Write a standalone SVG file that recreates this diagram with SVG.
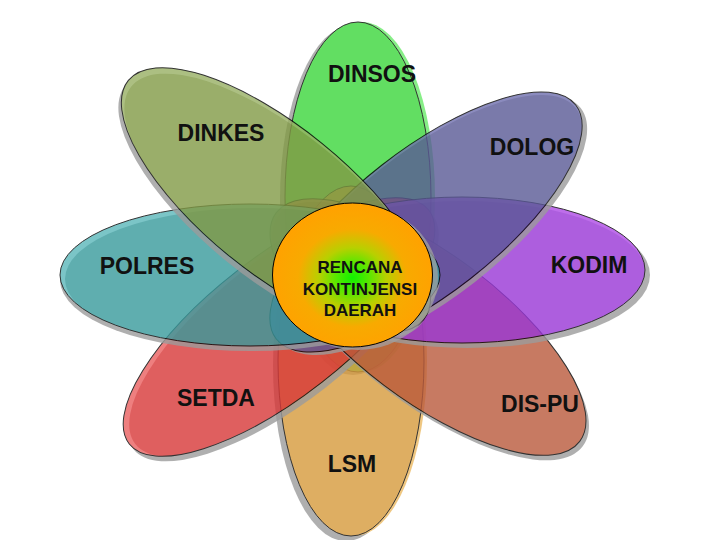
<svg xmlns="http://www.w3.org/2000/svg" xmlns:xlink="http://www.w3.org/1999/xlink" width="720" height="540" viewBox="0 0 720 540">
<style>
.shadow{fill:#9c9c9c}
.outline{fill:none;stroke:#000;stroke-width:1}
.petal{opacity:.8}
.lbl{font-family:"Liberation Sans",Arial,sans-serif;font-weight:bold;font-size:23px;fill:#111;text-anchor:middle}
.ctr{font-size:17px}
</style>
<defs>
<ellipse id="e-dinsos" cx="358" cy="197" rx="73" ry="175"/>
<ellipse id="e-lsm" cx="351" cy="361" rx="73" ry="175"/>
<ellipse id="e-polres" cx="250" cy="275" rx="190" ry="71"/>
<ellipse id="e-kodim" cx="462" cy="270" rx="183" ry="73"/>
<ellipse id="e-dinkes" cx="276" cy="200" rx="190" ry="73" transform="rotate(39 276 200)"/>
<ellipse id="e-dispu" cx="428" cy="327" rx="190" ry="73" transform="rotate(37 428 327)"/>
<ellipse id="e-dolog" cx="426" cy="222" rx="190" ry="72" transform="rotate(-38 426 222)"/>
<ellipse id="e-setda" cx="279" cy="327" rx="190" ry="70" transform="rotate(-38 279 327)"/>
<clipPath id="c-dinkes"><use xlink:href="#e-dinkes"/></clipPath>
<clipPath id="c-polres"><use xlink:href="#e-polres"/></clipPath>
<clipPath id="c-setda"><use xlink:href="#e-setda"/></clipPath>
<clipPath id="c-kodim"><use xlink:href="#e-kodim"/></clipPath>
<clipPath id="c-dolog"><use xlink:href="#e-dolog"/></clipPath>
<clipPath id="c-dispu"><use xlink:href="#e-dispu"/></clipPath>
<radialGradient id="g-center" cx="0.5" cy="0.52" r="0.5">
<stop offset="0" stop-color="#10f000"/>
<stop offset="0.2" stop-color="#55e800"/>
<stop offset="0.42" stop-color="#b8d000"/>
<stop offset="0.68" stop-color="#f8aa00"/>
<stop offset="1" stop-color="#ffa200"/>
</radialGradient>
</defs>

<g id="node-dinsos">
<g class="petal">
<use xlink:href="#e-dinsos" class="shadow" x="-5" y="3"/>
<use xlink:href="#e-dinsos" fill="#6aea6a" x="4" y="0"/>
<use xlink:href="#e-dinsos" fill="#3cd63c"/>
<use xlink:href="#e-dinsos" class="outline"/>
</g>
<text class="lbl" x="372" y="82">DINSOS</text>
</g>

<g id="node-lsm">
<g class="petal">
<use xlink:href="#e-lsm" class="shadow" x="-5" y="5"/>
<use xlink:href="#e-lsm" fill="#ecba63" x="3" y="0"/>
<use xlink:href="#e-lsm" fill="#d79a3b"/>
<use xlink:href="#e-lsm" class="outline"/>
</g>
<text class="lbl" x="352" y="472">LSM</text>
</g>

<g id="node-setda">
<g class="petal">
<use xlink:href="#e-setda" class="shadow" x="4" y="5"/>
<use xlink:href="#e-setda" fill="#ea6060"/>
<g clip-path="url(#c-setda)"><use xlink:href="#e-setda" fill="#d83838" x="6" y="0"/></g>
<use xlink:href="#e-setda" class="outline"/>
</g>
<text class="lbl" x="216" y="406">SETDA</text>
</g>

<g id="node-dispu">
<g class="petal">
<use xlink:href="#e-dispu" class="shadow" x="3" y="5"/>
<use xlink:href="#e-dispu" fill="#cd6f50"/>
<g clip-path="url(#c-dispu)"><use xlink:href="#e-dispu" fill="#ba5a3b" x="2" y="3"/></g>
<use xlink:href="#e-dispu" class="outline"/>
</g>
<text class="lbl" x="540" y="412">DIS-PU</text>
</g>

<g id="node-kodim">
<g class="petal">
<use xlink:href="#e-kodim" class="shadow" x="5" y="5"/>
<use xlink:href="#e-kodim" fill="#ae4ae6"/>
<g clip-path="url(#c-kodim)"><use xlink:href="#e-kodim" fill="#9937d7" x="1" y="4"/></g>
<use xlink:href="#e-kodim" class="outline"/>
</g>
<text class="lbl" x="589" y="273">KODIM</text>
</g>

<g id="node-dolog">
<g class="petal">
<use xlink:href="#e-dolog" class="shadow" x="5" y="3"/>
<use xlink:href="#e-dolog" fill="#6f6fae"/>
<g clip-path="url(#c-dolog)"><use xlink:href="#e-dolog" fill="#5a5996" x="0" y="3"/></g>
<use xlink:href="#e-dolog" class="outline"/>
</g>
<text class="lbl" x="532" y="155">DOLOG</text>
</g>

<g id="node-polres">
<g class="petal">
<use xlink:href="#e-polres" class="shadow" x="0" y="5"/>
<use xlink:href="#e-polres" fill="#5bb7ba"/>
<g clip-path="url(#c-polres)"><use xlink:href="#e-polres" fill="#389a9c" x="5" y="4"/></g>
<use xlink:href="#e-polres" class="outline"/>
</g>
<text class="lbl" x="147" y="274">POLRES</text>
</g>

<g id="node-dinkes">
<g class="petal">
<use xlink:href="#e-dinkes" class="shadow" x="-3" y="5"/>
<use xlink:href="#e-dinkes" fill="#98b064"/>
<g clip-path="url(#c-dinkes)"><use xlink:href="#e-dinkes" fill="#819a45" x="3" y="6"/></g>
<use xlink:href="#e-dinkes" class="outline"/>
</g>
<text class="lbl" x="221" y="141">DINKES</text>
</g>

<g id="node-center">
<ellipse cx="358" cy="278" rx="80" ry="72" fill="#a0a0a0" opacity="0.75"/>
<ellipse cx="352.5" cy="275" rx="80" ry="72" fill="url(#g-center)" stroke="#000" stroke-width="1"/>
<text class="lbl ctr" x="360" y="273">RENCANA</text>
<text class="lbl ctr" x="360" y="295">KONTINJENSI</text>
<text class="lbl ctr" x="360" y="316">DAERAH</text>
</g>

<g id="connectors"/>
</svg>
